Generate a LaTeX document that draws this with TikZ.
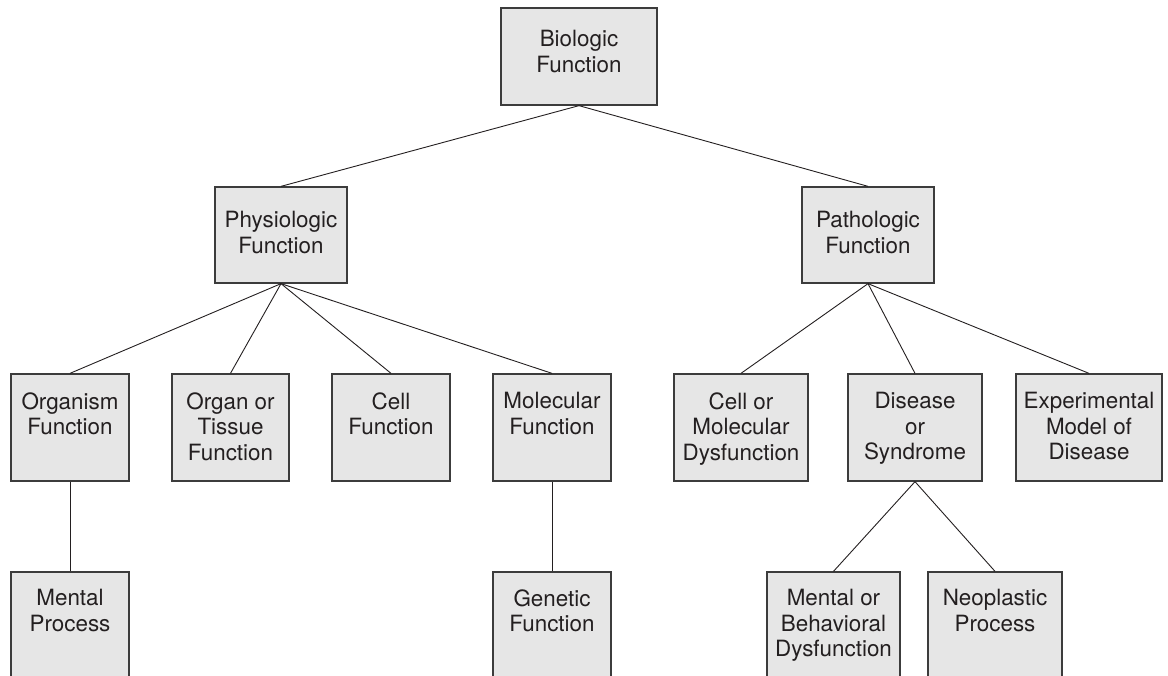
\documentclass[tikz,border=0pt]{standalone}
\usepackage{fontspec}
\setmainfont{TeX Gyre Heros}
\definecolor{boxfill}{HTML}{E6E6E6}
\definecolor{boxline}{HTML}{3C3C3C}
\definecolor{ink}{HTML}{231F20}
\begin{document}
\begin{tikzpicture}[x=1pt,y=1pt,
  box/.style={draw=boxline, fill=boxfill, line width=1.3pt, rectangle, inner sep=0pt},
  lbl/.style={text=ink, align=center, inner sep=0pt, anchor=north,
    font=\fontsize{22.4pt}{25.5pt}\selectfont},
  conn/.style={draw=ink, line width=0.9pt}]
\clip (0,0) rectangle (1168,-676);
\useasboundingbox (0,0) rectangle (1168,-676);
% level 0
\node[box, minimum width=156pt, minimum height=97pt] (bio) at (579,-56.5) {};
% level 1
\node[box, minimum width=132pt, minimum height=96pt] (phys) at (281,-235) {};
\node[box, minimum width=132pt, minimum height=96pt] (path) at (868,-235) {};
% level 2
\node[box, minimum width=118pt, minimum height=107pt] (org) at (70,-427.5) {};
\node[box, minimum width=117pt, minimum height=107pt] (organ) at (230.5,-427.5) {};
\node[box, minimum width=118pt, minimum height=107pt] (cell) at (391,-427.5) {};
\node[box, minimum width=118pt, minimum height=107pt] (mol) at (552,-427.5) {};
\node[box, minimum width=134pt, minimum height=107pt] (cmd) at (741,-427.5) {};
\node[box, minimum width=134pt, minimum height=107pt] (dis) at (915,-427.5) {};
\node[box, minimum width=146pt, minimum height=107pt] (exp) at (1089,-427.5) {};
% level 3 (cut by the page edge)
\node[box, minimum width=118pt, minimum height=128pt] (ment) at (70,-636) {};
\node[box, minimum width=118pt, minimum height=128pt] (gen) at (552,-636) {};
\node[box, minimum width=133pt, minimum height=128pt] (mbd) at (833.5,-636) {};
\node[box, minimum width=134pt, minimum height=128pt] (neo) at (995,-636) {};
% labels
\node[lbl] (bioT) at ([yshift=-23pt]bio.north) {\rule{0pt}{16pt}Biologic\\Function};
\node[lbl] (physT) at ([yshift=-25pt]phys.north) {\rule{0pt}{16pt}Physiologic\\Function};
\node[lbl] (pathT) at ([yshift=-25pt]path.north) {\rule{0pt}{16pt}Pathologic\\Function};
\node[lbl] (orgT) at ([yshift=-19pt]org.north) {\rule{0pt}{16pt}Organism\\Function};
\node[lbl] (organT) at ([yshift=-19pt]organ.north) {\rule{0pt}{16pt}Organ or\\Tissue\\Function};
\node[lbl] (cellT) at ([yshift=-19pt]cell.north) {\rule{0pt}{16pt}Cell\\Function};
\node[lbl] (molT) at ([yshift=-19pt]mol.north) {\rule{0pt}{16pt}Molecular\\Function};
\node[lbl] (cmdT) at ([yshift=-19pt]cmd.north) {\rule{0pt}{16pt}Cell or\\Molecular\\Dysfunction};
\node[lbl] (disT) at ([yshift=-19pt]dis.north) {\rule{0pt}{16pt}Disease\\or\\Syndrome};
\node[lbl] (expT) at ([yshift=-19pt]exp.north) {\rule{0pt}{16pt}Experimental\\Model of\\Disease};
\node[lbl] (mentT) at ([yshift=-18pt]ment.north) {\rule{0pt}{16pt}Mental\\Process};
\node[lbl] (genT) at ([yshift=-18pt]gen.north) {\rule{0pt}{16pt}Genetic\\Function};
\node[lbl] (mbdT) at ([yshift=-18pt]mbd.north) {\rule{0pt}{16pt}Mental or\\Behavioral\\Dysfunction};
\node[lbl] (neoT) at ([yshift=-18pt]neo.north) {\rule{0pt}{16pt}Neoplastic\\Process};
% connectors
\draw[conn] (bio.south) -- (phys.north);
\draw[conn] (bio.south) -- (path.north);
\draw[conn] (phys.south) -- (org.north);
\draw[conn] (phys.south) -- (organ.north);
\draw[conn] (phys.south) -- (cell.north);
\draw[conn] (phys.south) -- (mol.north);
\draw[conn] (path.south) -- (cmd.north);
\draw[conn] (path.south) -- (dis.north);
\draw[conn] (path.south) -- (exp.north);
\draw[conn] (org.south) -- (ment.north);
\draw[conn] (mol.south) -- (gen.north);
\draw[conn] (dis.south) -- (mbd.north);
\draw[conn] (dis.south) -- (neo.north);
\end{tikzpicture}
\end{document}
